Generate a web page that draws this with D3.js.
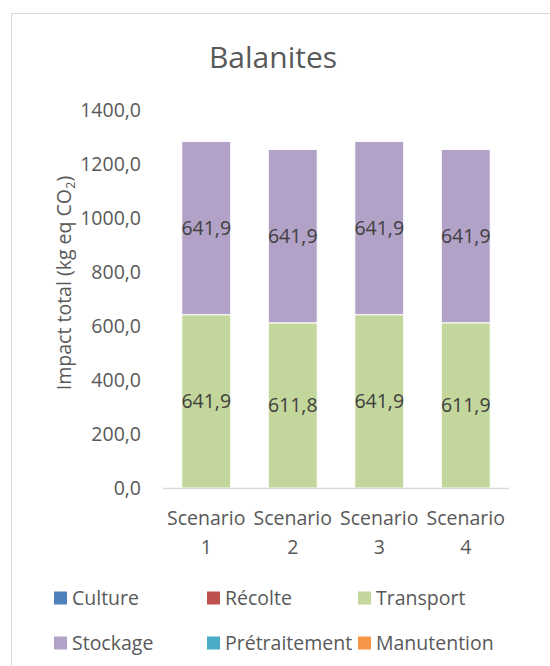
<!DOCTYPE html>
<html>
<head>
<meta charset="utf-8">
<script src="https://cdn.jsdelivr.net/npm/d3@7"></script>
<style>
  body { margin: 0; background: #fff; }
  svg { display: block; font-family: "Open Sans", sans-serif; }
</style>
</head>
<body>
<svg id="chart" width="550" height="666"></svg>
<script>
// Chart data
const scenarios = ["Scenario 1", "Scenario 2", "Scenario 3", "Scenario 4"];
const seriesNames = ["Culture", "Récolte", "Transport", "Stockage", "Prétraitement", "Manutention"];
const seriesColors = ["#4F81BD", "#C0504D", "#C3D69B", "#B3A2C7", "#4BACC6", "#F79646"];
const culture = [0, 0, 0, 0];
const recolte = [0, 0, 0, 0];
const transport = [641.9, 611.8, 641.9, 611.9];
const stockage = [641.9, 641.9, 641.9, 641.9];
const pretraitement = [0, 0, 0, 0];
const manutention = [0, 0, 0, 0];
const yTicks = [0, 200, 400, 600, 800, 1000, 1200, 1400];

const seriesValues = [culture, recolte, transport, stockage, pretraitement, manutention];
const rows = scenarios.map(function(s, i) {
  let row = { scenario: s };
  seriesNames.forEach(function(n, j) { row[n] = seriesValues[j][i]; });
  return row;
});

const svg = d3.select("#chart");
const fmt = function(v) { return d3.format(".1f")(v).replace(".", ","); };

// Chart frame
svg.append("rect")
  .attr("x", 11.5).attr("y", 13.5)
  .attr("width", 600).attr("height", 700)
  .attr("fill", "#fff")
  .attr("stroke", "#D9D9D9");

const x = d3.scaleBand()
  .domain(scenarios)
  .range([163, 509])
  .paddingInner(0.434)
  .paddingOuter(0.217);

const y = d3.scaleLinear()
  .domain([0, 1400])
  .range([488, 110]);

const color = d3.scaleOrdinal().domain(seriesNames).range(seriesColors);

// Title
svg.append("text")
  .attr("x", 273).attr("y", 68)
  .attr("text-anchor", "middle")
  .attr("font-size", 30)
  .attr("fill", "#595959")
  .text("Balanites");

// Y axis labels
const yAxis = svg.append("g")
  .attr("transform", "translate(163,0)")
  .call(d3.axisLeft(y).tickValues(yTicks).tickFormat(fmt).tickSize(0).tickPadding(22));
yAxis.select(".domain").remove();
yAxis.selectAll("text")
  .attr("font-family", "Open Sans")
  .attr("font-size", 19.5)
  .attr("fill", "#595959");

// Y axis title
const yTitle = svg.append("text")
  .attr("transform", "translate(71,283) rotate(-90)")
  .attr("text-anchor", "middle")
  .attr("font-size", 19.5)
  .attr("fill", "#595959");
yTitle.append("tspan").text("Impact total (kg eq CO");
yTitle.append("tspan").attr("font-size", 13).attr("dy", 4).text("2");
yTitle.append("tspan").attr("dy", -4).text(")");

// Stacked bars
const stacked = d3.stack().keys(seriesNames)(rows);

const layers = svg.selectAll(".layer")
  .data(stacked)
  .enter().append("g")
  .attr("class", "layer")
  .attr("fill", function(d) { return color(d.key); });

layers.selectAll("rect")
  .data(function(d) { return d; })
  .enter().append("rect")
  .attr("x", function(d) { return x(d.data.scenario); })
  .attr("y", function(d) { return y(d[1]); })
  .attr("width", x.bandwidth())
  .attr("height", function(d) { return y(d[0]) - y(d[1]); })
  .attr("stroke", function(d) { return d[1] > d[0] ? "#fff" : "none"; })
  .attr("stroke-width", 1);

// Data labels
layers.selectAll("text")
  .data(function(d) { return d.filter(function(p) { return p[1] > p[0]; }); })
  .enter().append("text")
  .attr("x", function(d) { return x(d.data.scenario) + x.bandwidth() / 2; })
  .attr("y", function(d) { return (y(d[0]) + y(d[1])) / 2; })
  .attr("dy", "0.35em")
  .attr("text-anchor", "middle")
  .attr("font-size", 19.5)
  .attr("fill", "#404040")
  .text(function(d) { return fmt(d[1] - d[0]); });

// X axis line
svg.append("line")
  .attr("x1", 163).attr("x2", 509)
  .attr("y1", y(0) + 0.5).attr("y2", y(0) + 0.5)
  .attr("stroke", "#D9D9D9")
  .attr("stroke-width", 1.5);

// X labels (two lines)
const xLabels = svg.selectAll(".xlabel")
  .data(scenarios)
  .enter().append("text")
  .attr("class", "xlabel")
  .attr("text-anchor", "middle")
  .attr("font-size", 19.5)
  .attr("fill", "#595959");
xLabels.each(function(d) {
  let parts = d.split(" ");
  let cx = x(d) + x.bandwidth() / 2;
  let t = d3.select(this);
  t.append("tspan").attr("x", cx).attr("y", 525).text(parts[0]);
  t.append("tspan").attr("x", cx).attr("y", 554).text(parts[1]);
});

// Legend
const legendX = [54, 207, 358];
const legendY = [598, 643];
const legend = svg.selectAll(".legend")
  .data(seriesNames)
  .enter().append("g")
  .attr("class", "legend")
  .attr("transform", function(d, i) {
    return "translate(" + legendX[i % 3] + "," + legendY[Math.floor(i / 3)] + ")";
  });
legend.append("rect")
  .attr("x", 0).attr("y", -6.5)
  .attr("width", 13).attr("height", 13)
  .attr("fill", function(d) { return color(d); });
legend.append("text")
  .attr("x", 18).attr("y", 0)
  .attr("dy", "0.35em")
  .attr("font-size", 19.5)
  .attr("fill", "#595959")
  .text(function(d) { return d; });
</script>
</body>
</html>
